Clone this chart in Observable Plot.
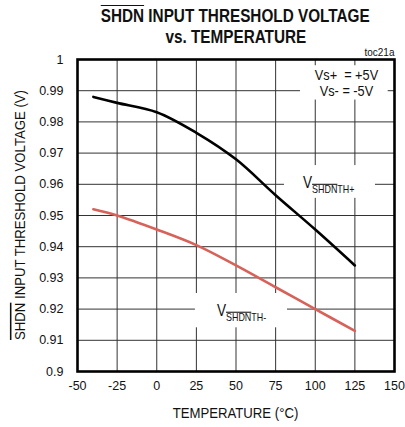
<!DOCTYPE html>
<html><head><meta charset="utf-8">
<script src="https://cdn.jsdelivr.net/npm/d3@7"></script>
<script src="https://cdn.jsdelivr.net/npm/@observablehq/plot@0.6"></script>
<style>
body{margin:0;background:#fff;}
#title{box-sizing:border-box;width:405px;height:48px;padding:6px 11px 0 77px;text-align:center;font-family:"Liberation Sans",Arial,sans-serif;font-weight:bold;font-size:18px;line-height:21px;color:#111;}
#title span.sq{display:inline-block;transform:scaleX(0.85);transform-origin:50% 50%;white-space:nowrap;}
#title .ol{text-decoration:overline;}
</style></head>
<body>
<div id="title"><span class="sq"><span class="ol">SHDN</span> INPUT THRESHOLD VOLTAGE</span><br><span class="sq">vs. TEMPERATURE</span></div>
<div id="chart"></div>
<script>
// ---- data ----
const temps = [-40, -25, 0, 25, 50, 75, 100, 125];
const vthPlus = [0.988, 0.9861, 0.9831, 0.9765, 0.968, 0.9565, 0.9455, 0.934];
const vthMinus = [0.952, 0.950, 0.9455, 0.9405, 0.934, 0.927, 0.920, 0.913];
const xTicks = [-50, -25, 0, 25, 50, 75, 100, 125, 150];
const yTicks = [0.9, 0.91, 0.92, 0.93, 0.94, 0.95, 0.96, 0.97, 0.98, 0.99, 1];
// white boxes behind annotations (data units)
const boxX1 = [90.7, 80.6, 24.4];
const boxX2 = [146, 138, 82.5];
const boxY1 = [0.987, 0.9555, 0.914];
const boxY2 = [0.998, 0.966, 0.925];

const plusData = temps.map((t, i) => ({t, v: vthPlus[i]}));
const minusData = temps.map((t, i) => ({t, v: vthMinus[i]}));
const boxes = boxX1.map((x1, i) => ({x1, x2: boxX2[i], y1: boxY1[i], y2: boxY2[i]}));

const FONT = '"Liberation Sans",Arial,sans-serif';
const K = 0.85; // horizontal squeeze of the reference's narrow type
const grid = "#333";

const chart = Plot.plot({
  width: 405,
  height: 379,
  marginLeft: 77,
  marginRight: 11,
  marginTop: 11,
  marginBottom: 56,
  style: {fontFamily: FONT, fontSize: "12.5px", color: "#111", background: "#fff"},
  x: {domain: [-50, 150]},
  y: {domain: [0.9, 1]},
  marks: [
    Plot.gridX(xTicks, {stroke: grid, strokeOpacity: 1, strokeWidth: 1}),
    Plot.gridY(yTicks, {stroke: grid, strokeOpacity: 1, strokeWidth: 1}),
    Plot.rect(boxes, {x1: "x1", x2: "x2", y1: "y1", y2: "y2", fill: "#fff"}),
    Plot.line(minusData, {x: "t", y: "v", stroke: "#d6625a", strokeWidth: 2.6, curve: "catmull-rom"}),
    Plot.line(plusData, {x: "t", y: "v", stroke: "#000", strokeWidth: 2.6, curve: "catmull-rom"}),
    Plot.frame({stroke: "#000", strokeWidth: 2.6}),
    Plot.axisX({ticks: xTicks, tickSize: 0, tickPadding: 10, label: null, fontSize: 12.5, tickFormat: d => String(d)}),
    Plot.axisY({ticks: yTicks, tickSize: 0, tickPadding: 14, label: null, fontSize: 12.5, tickFormat: d => String(d)}),
    Plot.text(["toc21a"], {frameAnchor: "top-right", dy: -4, textAnchor: "end", lineAnchor: "bottom", fontSize: 10})
  ]
});
document.getElementById("chart").appendChild(chart);

const svg = d3.select(chart);

// ---- annotations with overlines, placed through Plot's scales ----
const sx = chart.scale("x"), sy = chart.scale("y");
const g = svg.append("g").attr("font-family", FONT).attr("fill", "#111");
function txt(x, y, size, anchor = "start", rot = 0) {
  return g.append("text")
    .attr("transform", `translate(${x},${y}) rotate(${rot}) scale(${K},1)`)
    .attr("text-anchor", anchor).attr("font-size", size).attr("xml:space", "preserve");
}

// supply labels
txt(sx.apply(120), sy.apply(0.9932), 15, "middle").text("Vs+  = +5V");
txt(sx.apply(120), sy.apply(0.9881), 15, "middle").text("Vs- = -5V");

function vlabel(xv, yv, suffix) {
  const t = txt(sx.apply(xv), sy.apply(yv), 16);
  t.append("tspan").text("V");
  t.append("tspan").attr("dy", 5).attr("font-size", 10.5).attr("text-decoration", "overline").text("SHDN");
  t.append("tspan").attr("font-size", 10.5).text(suffix);
}
vlabel(92.6, 0.9585, "TH+");
vlabel(38.3, 0.9175, "TH-");

// axis titles
const [y0, y1] = sy.range;
const yl = txt(25, (y0 + y1) / 2, 15.5, "middle", -90);
yl.append("tspan").attr("text-decoration", "overline").text("SHDN");
yl.append("tspan").text(" INPUT THRESHOLD VOLTAGE (V)");

const [x0, x1] = sx.range;
txt((x0 + x1) / 2, 370, 15.5, "middle").text("TEMPERATURE (°C)");
</script>
</body></html>
